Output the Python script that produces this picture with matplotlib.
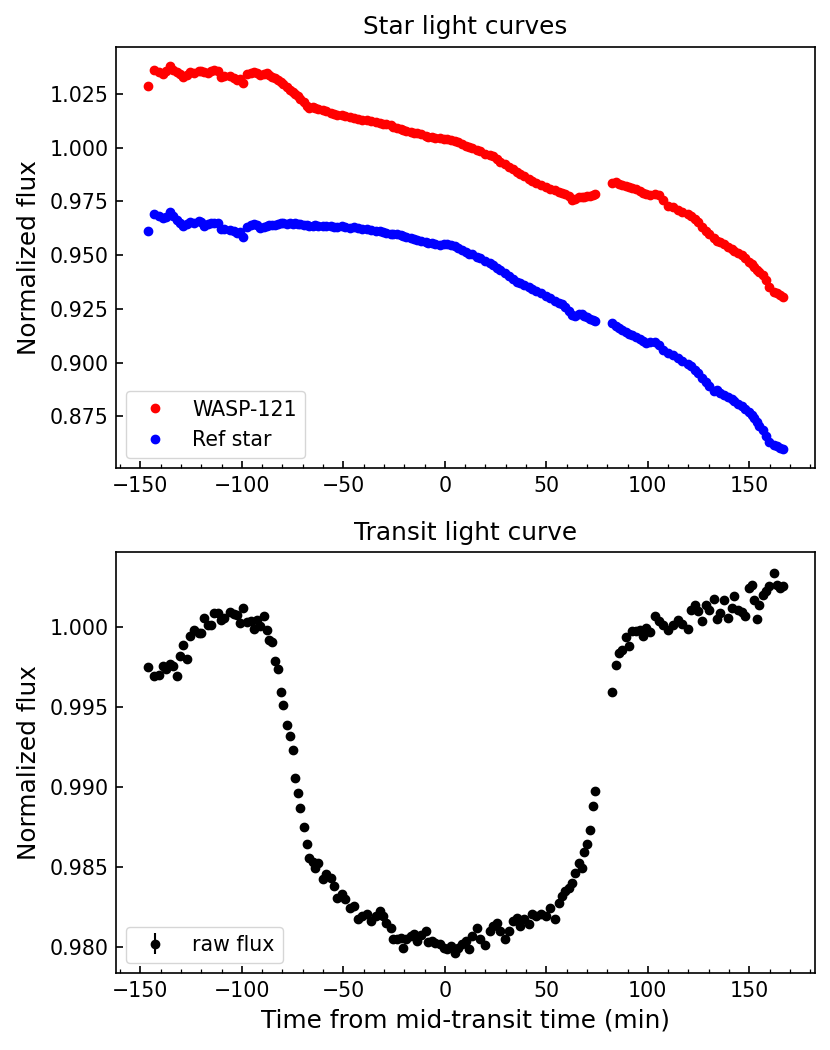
import numpy as np
import matplotlib
matplotlib.use('agg')
import matplotlib.pyplot as plt
from matplotlib.ticker import AutoMinorLocator

# times of the frames, minutes from mid-transit (gap between ~74 and ~82 min)
time = [
    -146.3, -143.4, -140.6, -139.0, -137.3, -135.2, -133.9, -132.1, -130.4, -129.0,
    -127.1, -125.5, -123.7, -121.3, -120.1, -118.6, -116.8, -115.2, -113.7, -111.9,
    -110.3, -108.7, -106.0, -104.0, -102.4, -101.1, -99.3, -97.3, -95.7, -94.2,
    -92.5, -91.1, -89.1, -87.8, -86.7, -84.9, -83.7, -82.1, -80.8, -79.5,
    -77.8, -76.5, -75.0,
    -73.7, -72.4, -71.1, -69.5, -68.0, -66.7, -64.9, -63.8, -62.5, -59.8,
    -58.3, -56.2, -54.4, -52.9, -50.8, -49.2, -46.9, -44.7, -42.8, -40.6,
    -38.2, -36.6, -34.1, -32.0, -30.3, -29.0, -26.7, -25.4, -23.4, -21.8,
    -20.6, -19.0, -16.9, -15.2, -13.9, -11.6, -9.5, -8.2, -6.2, -4.6,
    -2.5, -0.5, 1.2, 3.1, 4.8, 6.6, 8.6, 10.5, 12.1, 13.5,
    15.6, 17.2, 20.0, 22.1, 23.8, 25.8, 27.4, 29.8, 31.5, 33.6,
    35.6, 37.2, 38.8, 41.3, 43.0, 45.1, 47.4, 49.9, 52.0, 54.1,
    56.0, 57.7, 59.3, 61.0, 62.6, 64.3, 66.2, 67.6, 68.7, 70.0,
    71.3, 72.8, 74.1,
    82.1, 84.3, 85.9, 87.2, 89.3, 90.8, 92.3, 94.2, 96.2, 97.8,
    99.2, 101.1, 103.6, 105.6, 107.7, 110.1, 112.3, 114.6, 117.0, 120.0,
    121.1, 123.3, 124.9, 126.9, 128.7, 130.3, 132.6, 134.0, 135.5, 137.5,
    139.6, 141.3, 142.4, 144.5, 146.2, 147.8, 149.8, 151.1, 152.4, 153.7,
    154.9, 156.5, 158.2, 159.8, 162.3, 163.4, 165.1, 166.7,
]

# WASP-121 normalized flux
wasp121 = [
    1.0286, 1.0359, 1.0352, 1.0344, 1.0356, 1.0380, 1.0362, 1.0351, 1.0340, 1.0328,
    1.0336, 1.0350, 1.0345, 1.0357, 1.0355, 1.0350, 1.0347, 1.0354, 1.0360, 1.0355,
    1.0330, 1.0332, 1.0331, 1.0322, 1.0314, 1.0318, 1.0300, 1.0342, 1.0348, 1.0351,
    1.0346, 1.0338, 1.0340, 1.0345, 1.0337, 1.0330, 1.0322, 1.0315, 1.0306, 1.0298,
    1.0283, 1.0270, 1.0260,
    1.0250, 1.0240, 1.0228, 1.0212, 1.0193, 1.0186, 1.0188, 1.0184, 1.0181, 1.0176,
    1.0168, 1.0163, 1.0158, 1.0151, 1.0152, 1.0148, 1.0143, 1.0138, 1.0135, 1.0128,
    1.0130, 1.0124, 1.0117, 1.0115, 1.0111, 1.0108, 1.0104, 1.0097, 1.0090, 1.0086,
    1.0081, 1.0079, 1.0073, 1.0070, 1.0066, 1.0062, 1.0055, 1.0051, 1.0050, 1.0046,
    1.0044, 1.0042, 1.0040, 1.0036, 1.0031, 1.0024, 1.0015, 1.0006, 1.0001, 0.9996,
    0.9990, 0.9984, 0.9972, 0.9966, 0.9960, 0.9945, 0.9934, 0.9922, 0.9910, 0.9898,
    0.9887, 0.9876, 0.9869, 0.9856, 0.9843, 0.9833, 0.9826, 0.9818, 0.9809, 0.9803,
    0.9795, 0.9788, 0.9784, 0.9775, 0.9758, 0.9760, 0.9770, 0.9768, 0.9772, 0.9773,
    0.9776, 0.9780, 0.9786,
    0.9837, 0.9838, 0.9830, 0.9826, 0.9822, 0.9818, 0.9813, 0.9806, 0.9797, 0.9790,
    0.9785, 0.9780, 0.9786, 0.9779, 0.9756, 0.9730, 0.9722, 0.9710, 0.9700, 0.9690,
    0.9680, 0.9666, 0.9654, 0.9632, 0.9612, 0.9598, 0.9578, 0.9564, 0.9560, 0.9553,
    0.9538, 0.9528, 0.9520, 0.9508, 0.9500, 0.9488, 0.9466, 0.9457, 0.9443, 0.9432,
    0.9420, 0.9405, 0.9382, 0.9350, 0.9330, 0.9325, 0.9314, 0.9306,
]

# reference star normalized flux
ref_star = [
    0.9612, 0.9689, 0.9680, 0.9670, 0.9678, 0.9700, 0.9682, 0.9665, 0.9650, 0.9634,
    0.9645, 0.9654, 0.9650, 0.9658, 0.9655, 0.9636, 0.9645, 0.9651, 0.9648, 0.9650,
    0.9620, 0.9622, 0.9616, 0.9610, 0.9602, 0.9605, 0.9586, 0.9630, 0.9640, 0.9646,
    0.9638, 0.9627, 0.9629, 0.9636, 0.9640, 0.9638, 0.9642, 0.9645, 0.9648, 0.9650,
    0.9646, 0.9648, 0.9645,
    0.9647, 0.9644, 0.9646, 0.9642, 0.9640, 0.9633, 0.9636, 0.9638, 0.9634, 0.9636,
    0.9633, 0.9635, 0.9630, 0.9632, 0.9634, 0.9629, 0.9628, 0.9630, 0.9625, 0.9621,
    0.9622, 0.9617, 0.9610, 0.9612, 0.9606, 0.9603, 0.9600, 0.9598, 0.9596, 0.9594,
    0.9590, 0.9584, 0.9578, 0.9574, 0.9570, 0.9566, 0.9560, 0.9556, 0.9555, 0.9552,
    0.9548, 0.9550, 0.9553, 0.9547, 0.9540, 0.9532, 0.9522, 0.9513, 0.9507, 0.9503,
    0.9493, 0.9484, 0.9472, 0.9462, 0.9452, 0.9440, 0.9430, 0.9416, 0.9402, 0.9390,
    0.9376, 0.9368, 0.9362, 0.9350, 0.9340, 0.9333, 0.9322, 0.9310, 0.9298, 0.9288,
    0.9278, 0.9270, 0.9258, 0.9240, 0.9222, 0.9215, 0.9225, 0.9224, 0.9218, 0.9210,
    0.9204, 0.9198, 0.9193,
    0.9182, 0.9172, 0.9162, 0.9150, 0.9140, 0.9134, 0.9128, 0.9120, 0.9110, 0.9100,
    0.9092, 0.9096, 0.9094, 0.9080, 0.9060, 0.9043, 0.9034, 0.9022, 0.9008, 0.8994,
    0.8985, 0.8966, 0.8950, 0.8930, 0.8910, 0.8890, 0.8868, 0.8870, 0.8860, 0.8848,
    0.8838, 0.8828, 0.8820, 0.8808, 0.8798, 0.8785, 0.8768, 0.8755, 0.8742, 0.8722,
    0.8705, 0.8688, 0.8660, 0.8628, 0.8615, 0.8610, 0.8602, 0.8597,
]

# transit light curve (raw flux)
raw_flux = [
    0.99748, 0.99692, 0.99702, 0.99754, 0.99738, 0.99771, 0.99758, 0.99696, 0.99821, 0.99885,
    0.99800, 0.99946, 0.99983, 0.99963, 0.99963, 1.00056, 1.00014, 1.00014, 1.00087, 1.00087,
    1.00046, 1.00056, 1.00091, 1.00083, 1.00077, 1.00025, 1.00119, 1.00029, 1.00035, 0.99989,
    1.00046, 1.00004, 1.00066, 0.99983, 0.99921, 0.99908, 0.99785, 0.99738, 0.99594, 0.99515,
    0.99386, 0.99317, 0.99232,
    0.99057, 0.98964, 0.98870, 0.98749, 0.98645, 0.98558, 0.98531, 0.98496, 0.98527, 0.98427,
    0.98454, 0.98433, 0.98381, 0.98308, 0.98329, 0.98298, 0.98246, 0.98256, 0.98173, 0.98194,
    0.98204, 0.98162, 0.98194, 0.98225, 0.98194, 0.98152, 0.98121, 0.98048, 0.98048, 0.98059,
    0.97996, 0.98052, 0.98069, 0.98079, 0.98037, 0.98073, 0.98100, 0.98031, 0.98037, 0.98027,
    0.98017, 0.97996, 0.97986, 0.98006, 0.97965, 0.97996, 0.98017, 0.98037, 0.97986, 0.98069,
    0.98121, 0.98048, 0.98011, 0.98100, 0.98131, 0.98152, 0.98100, 0.98048, 0.98100, 0.98162,
    0.98183, 0.98131, 0.98173, 0.98142, 0.98204, 0.98194, 0.98204, 0.98194, 0.98246, 0.98173,
    0.98277, 0.98318, 0.98350, 0.98371, 0.98398, 0.98464, 0.98527, 0.98496, 0.98593, 0.98641,
    0.98730, 0.98880, 0.98974,
    0.99596, 0.99760, 0.99838, 0.99858, 0.99935, 0.99883, 0.99973, 0.99977, 0.99983, 0.99941,
    0.99994, 0.99966, 1.00071, 1.00035, 1.00014, 0.99979, 1.00014, 1.00046, 1.00019, 0.99988,
    1.00104, 1.00139, 1.00097, 1.00039, 1.00139, 1.00104, 1.00175, 1.00050, 1.00087, 1.00166,
    1.00056, 1.00119, 1.00195, 1.00108, 1.00091, 1.00071, 1.00243, 1.00264, 1.00170, 1.00052,
    1.00139, 1.00202, 1.00222, 1.00253, 1.00337, 1.00264, 1.00243, 1.00253,
]
flux_err = 0.0001  # smaller than the markers

plt.rcParams['font.size'] = 14.8
plt.rcParams['axes.titlesize'] = 17.8
plt.rcParams['axes.labelsize'] = 17.8
plt.rcParams['legend.fontsize'] = 14.8
plt.rcParams['axes.linewidth'] = 1.2
plt.rcParams['axes.titlepad'] = 8.9
plt.rcParams['axes.labelpad'] = 5.9

fig = plt.figure(figsize=(8.3, 10.5), dpi=100)
ax1 = fig.add_axes([0.1398, 0.554, 0.8422, 0.4015])
ax2 = fig.add_axes([0.1398, 0.073, 0.8422, 0.401])

ax1.plot(time, wasp121, 'o', color='red', ms=6, label='WASP-121')
ax1.plot(time, ref_star, 'o', color='blue', ms=6, label='Ref star')
ax1.set_title('Star light curves')
ax1.set_ylabel('Normalized flux')
ax1.legend(loc='lower left')

ax2.errorbar(time, raw_flux, yerr=flux_err, fmt='o', color='black', ms=6,
             label='raw flux')
ax2.set_title('Transit light curve')
ax2.set_ylabel('Normalized flux')
ax2.set_xlabel('Time from mid-transit time (min)')
ax2.legend(loc='lower left')

for ax in (ax1, ax2):
    ax.xaxis.set_minor_locator(AutoMinorLocator())
    ax.tick_params(which='major', direction='in', length=5.2, width=1.2, pad=5.2)
    ax.tick_params(which='minor', direction='in', length=3.0, width=0.9)

ax1.yaxis.set_major_formatter(matplotlib.ticker.FormatStrFormatter('%.3f'))
ax2.yaxis.set_major_formatter(matplotlib.ticker.FormatStrFormatter('%.3f'))

fig.savefig('out.png', dpi=100)
